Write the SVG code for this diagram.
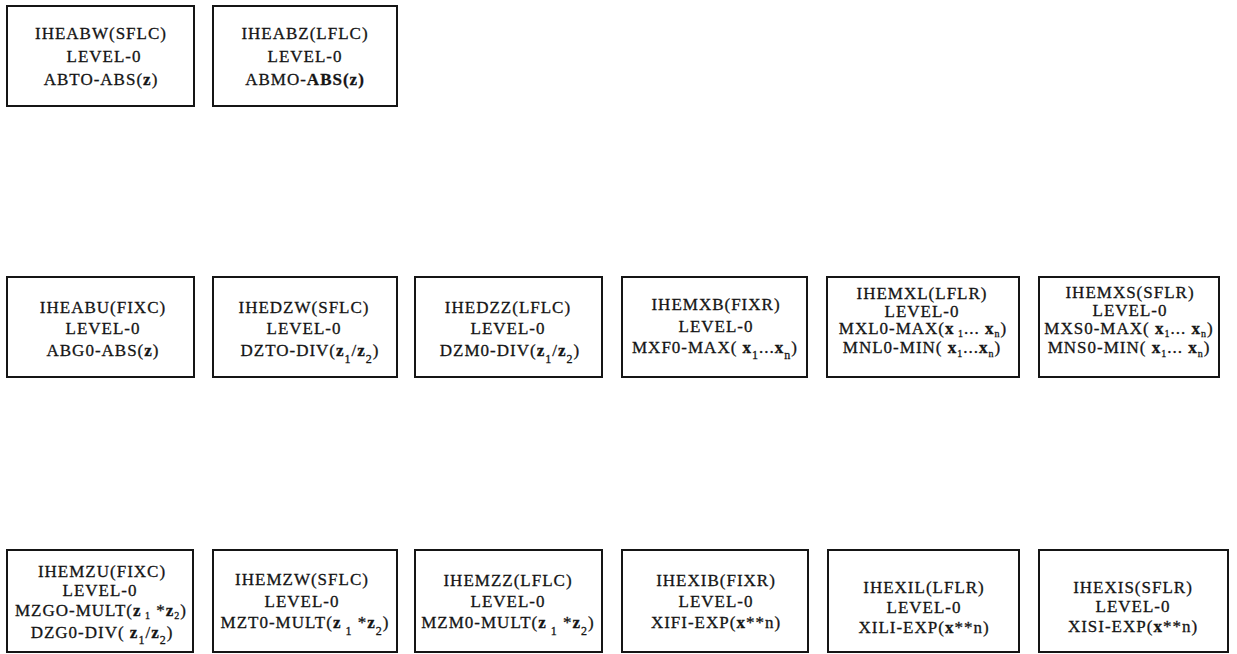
<svg xmlns="http://www.w3.org/2000/svg" width="1237" height="654" viewBox="0 0 1237 654">
<style>
.box{fill:#fff;stroke:#151515;stroke-width:2}
.t{font-family:"Liberation Serif","Times New Roman",serif;font-size:17px;letter-spacing:1px;fill:#151515;stroke:#151515;stroke-width:0.3;text-anchor:middle}
.b{font-weight:bold}
.s{font-size:12px}
.ss{font-size:10px}
</style>
<rect width="1237" height="654" fill="#fff"/>
<g id="connectors"/>
<!-- Row 1 -->
<g id="IHEABW">
<rect class="box" x="7" y="6" width="187" height="100"/>
<text class="t" x="101" y="39">IHEABW(SFLC)</text>
<text class="t" x="104" y="62">LEVEL-0</text>
<text class="t" x="101" y="85">ABTO-ABS(<tspan class="b">z</tspan>)</text>
</g>
<g id="IHEABZ">
<rect class="box" x="213" y="6" width="184" height="100"/>
<text class="t" x="305" y="39">IHEABZ(LFLC)</text>
<text class="t" x="305" y="62">LEVEL-0</text>
<text class="t" x="305" y="85">ABMO-<tspan class="b">ABS(z)</tspan></text>
</g>
<!-- Row 2 -->
<g id="IHEABU">
<rect class="box" x="7" y="277" width="187" height="100"/>
<text class="t" x="103" y="313">IHEABU(FIXC)</text>
<text class="t" x="103" y="334">LEVEL-0</text>
<text class="t" x="103" y="356">ABG0-ABS(<tspan class="b">z</tspan>)</text>
</g>
<g id="IHEDZW">
<rect class="box" x="213" y="277" width="184" height="100"/>
<text class="t" x="304" y="313">IHEDZW(SFLC)</text>
<text class="t" x="304" y="334">LEVEL-0</text>
<text class="t" x="310" y="356">DZTO-DIV(<tspan class="b">z</tspan><tspan class="s" dy="7">1</tspan><tspan dy="-7">/</tspan><tspan class="b">z</tspan><tspan class="s" dy="7">2</tspan><tspan dy="-7">)</tspan></text>
</g>
<g id="IHEDZZ">
<rect class="box" x="415" y="277" width="187" height="100"/>
<text class="t" x="508" y="313">IHEDZZ(LFLC)</text>
<text class="t" x="508" y="334">LEVEL-0</text>
<text class="t" x="510" y="356">DZM0-DIV(<tspan class="b">z</tspan><tspan class="s" dy="7">1</tspan><tspan dy="-7">/</tspan><tspan class="b">z</tspan><tspan class="s" dy="7">2</tspan><tspan dy="-7">)</tspan></text>
</g>
<g id="IHEMXB">
<rect class="box" x="622" y="277" width="185" height="100"/>
<text class="t" x="716" y="310">IHEMXB(FIXR)</text>
<text class="t" x="716" y="332">LEVEL-0</text>
<text class="t" x="715" y="353">MXF0-MAX( <tspan class="b">x</tspan><tspan class="s" dy="6">1</tspan><tspan dy="-6">...</tspan><tspan class="b">x</tspan><tspan class="s" dy="6">n</tspan><tspan dy="-6">)</tspan></text>
</g>
<g id="IHEMXL">
<rect class="box" x="827" y="277" width="192" height="100"/>
<text class="t" x="922" y="299">IHEMXL(LFLR)</text>
<text class="t" x="922" y="317">LEVEL-0</text>
<text class="t" x="923" y="334">MXL0-MAX(<tspan class="b">x</tspan><tspan class="ss" dy="3"> 1</tspan><tspan dy="-3">... </tspan><tspan class="b">x</tspan><tspan class="ss" dy="3">n</tspan><tspan dy="-3">)</tspan></text>
<text class="t" x="922" y="353">MNL0-MIN( <tspan class="b">x</tspan><tspan class="ss" dy="4">1</tspan><tspan dy="-4">...</tspan><tspan class="b">x</tspan><tspan class="ss" dy="4">n</tspan><tspan dy="-4">)</tspan></text>
</g>
<g id="IHEMXS">
<rect class="box" x="1039" y="277" width="180" height="100"/>
<text class="t" x="1130" y="298">IHEMXS(SFLR)</text>
<text class="t" x="1130" y="316">LEVEL-0</text>
<text class="t" x="1129" y="334">MXS0-MAX( <tspan class="b">x</tspan><tspan class="ss" dy="3">1</tspan><tspan dy="-3">... </tspan><tspan class="b">x</tspan><tspan class="ss" dy="3">n</tspan><tspan dy="-3">)</tspan></text>
<text class="t" x="1129" y="353">MNS0-MIN( <tspan class="b">x</tspan><tspan class="ss" dy="4">1</tspan><tspan dy="-4">... </tspan><tspan class="b">x</tspan><tspan class="ss" dy="4">n</tspan><tspan dy="-4">)</tspan></text>
</g>
<!-- Row 3 -->
<g id="IHEMZU">
<rect class="box" x="7" y="550" width="186" height="102"/>
<text class="t" x="102" y="577">IHEMZU(FIXC)</text>
<text class="t" x="100" y="596">LEVEL-0</text>
<text class="t" x="101" y="616">MZGO-MULT(<tspan class="b">z</tspan><tspan class="ss" dy="3"> 1</tspan><tspan dy="-3"> *</tspan><tspan class="b">z</tspan><tspan class="ss" dy="3">2</tspan><tspan dy="-3">)</tspan></text>
<text class="t" x="102" y="638">DZG0-DIV( <tspan class="b">z</tspan><tspan class="s" dy="6">1</tspan><tspan dy="-6">/</tspan><tspan class="b">z</tspan><tspan class="s" dy="6">2</tspan><tspan dy="-6">)</tspan></text>
</g>
<g id="IHEMZW">
<rect class="box" x="213" y="550" width="184" height="102"/>
<text class="t" x="302" y="585">IHEMZW(SFLC)</text>
<text class="t" x="302" y="607">LEVEL-0</text>
<text class="t" x="305" y="628">MZT0-MULT(<tspan class="b">z</tspan><tspan class="s" dy="7"> 1</tspan><tspan dy="-7"> *</tspan><tspan class="b">z</tspan><tspan class="s" dy="7">2</tspan><tspan dy="-7">)</tspan></text>
</g>
<g id="IHEMZZ">
<rect class="box" x="415" y="550" width="187" height="102"/>
<text class="t" x="508" y="586">IHEMZZ(LFLC)</text>
<text class="t" x="508" y="607">LEVEL-0</text>
<text class="t" x="508" y="628">MZM0-MULT(<tspan class="b">z</tspan><tspan class="s" dy="7"> 1</tspan><tspan dy="-7"> *</tspan><tspan class="b">z</tspan><tspan class="s" dy="7">2</tspan><tspan dy="-7">)</tspan></text>
</g>
<g id="IHEXIB">
<rect class="box" x="622" y="550" width="186" height="102"/>
<text class="t" x="716" y="586">IHEXIB(FIXR)</text>
<text class="t" x="716" y="607">LEVEL-0</text>
<text class="t" x="716" y="628">XIFI-EXP(<tspan class="b">x</tspan>**n)</text>
</g>
<g id="IHEXIL">
<rect class="box" x="828" y="550" width="191" height="102"/>
<text class="t" x="924" y="593">IHEXIL(LFLR)</text>
<text class="t" x="924" y="613">LEVEL-0</text>
<text class="t" x="924" y="633">XILI-EXP(<tspan class="b">x</tspan>**n)</text>
</g>
<g id="IHEXIS">
<rect class="box" x="1039" y="550" width="189" height="102"/>
<text class="t" x="1133" y="593">IHEXIS(SFLR)</text>
<text class="t" x="1133" y="612">LEVEL-0</text>
<text class="t" x="1133" y="632">XISI-EXP(<tspan class="b">x</tspan>**n)</text>
</g>
</svg>
